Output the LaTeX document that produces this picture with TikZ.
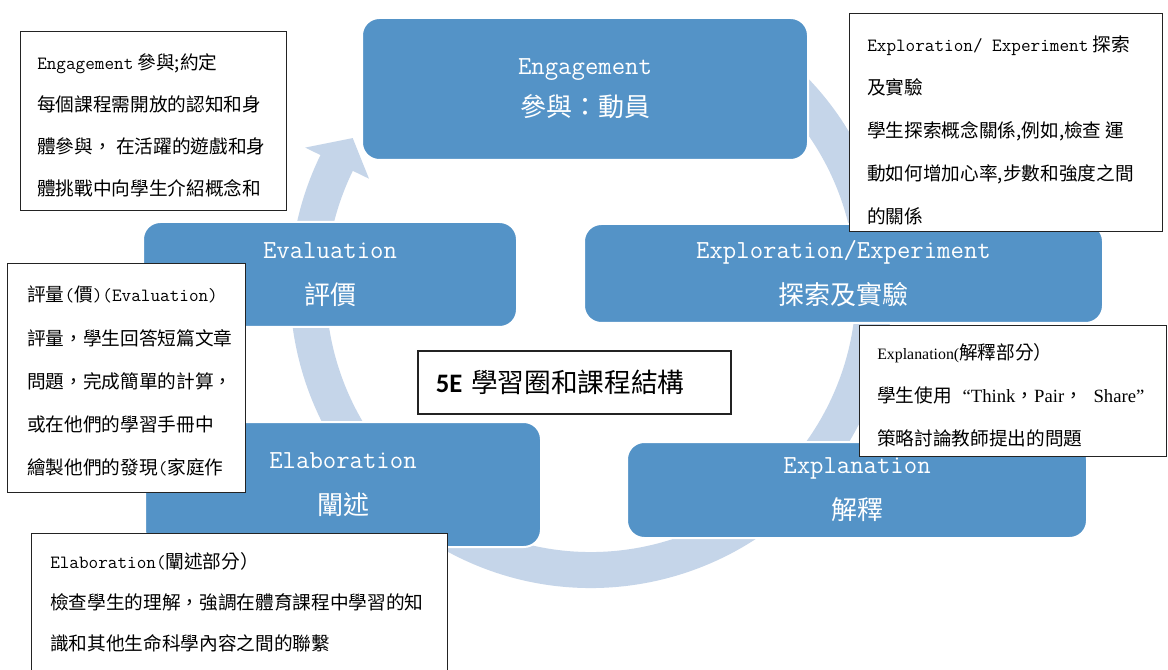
\documentclass[tikz,border=0pt]{standalone}
\usepackage{fontspec}
\setmainfont{Noto Sans CJK TC}
\newfontfamily\mono{Latin Modern Mono}
\newfontfamily\tnr{Liberation Serif}[Scale=0.85]
\newfontfamily\tnrb{Liberation Serif}
\newfontfamily\carl{Carlito}
\usetikzlibrary{calc}
\definecolor{boxblue}{RGB}{84,147,199}
\definecolor{ringblue}{RGB}{197,213,233}
\definecolor{edgegray}{RGB}{35,35,35}
\tikzset{
  bluebox/.style={rectangle, rounded corners=13pt, fill=boxblue, draw=white, line width=1.5pt, text=white, align=center, inner sep=0pt},
  callout/.style={rectangle, fill=white, draw=edgegray, line width=1pt, inner sep=0pt},
  ctext/.style={anchor=base west, inner sep=0pt, text=black},
}
\begin{document}
\begin{tikzpicture}[x=0.75pt, y=-0.75pt]
\clip (0,0) rectangle (1168,670);
\fill[white] (0,0) rectangle (1168,670);

% ring arrow
\begin{scope}[shift={(591,287)}, x=0.75pt, y=0.75pt]
\fill[ringblue] (60:301) arc[start angle=60, end angle=-206, radius=301]
  -- (-206:318) -- (-212:281) -- (-206:247) -- (-206:265)
  arc[start angle=-206, end angle=60, radius=265] -- cycle;
\end{scope}

% stage boxes
\node[bluebox, minimum width=334.5pt, minimum height=106.5pt, font=\fontsize{19.5}{31.5}\selectfont] (eng) at (585,89) {{\ttfamily Engagement}\\參與：動員};
\node[bluebox, minimum width=389.25pt, minimum height=74.25pt, font=\fontsize{19.5}{34.5}\selectfont] (exp) at (843.5,273.5) {{\ttfamily Exploration/Experiment}\\探索及實驗};
\node[bluebox, minimum width=345pt, minimum height=72pt, font=\fontsize{19.5}{34.5}\selectfont] (expl) at (857,490) {{\ttfamily Explanation}\\解釋};
\node[bluebox, minimum width=297pt, minimum height=93.75pt, font=\fontsize{19.5}{34.5}\selectfont] (elab) at (343,484.5) {{\ttfamily Elaboration}\\闡述};
\node[bluebox, minimum width=280.5pt, minimum height=78.75pt, font=\fontsize{19.5}{34.5}\selectfont] (eval) at (330,274.5) {{\ttfamily Evaluation}\\評價};

% callouts
\node[callout, anchor=north west, minimum width=199.5pt, minimum height=134.25pt] (cEng) at (20,31) {};
\node[ctext] (tEng) at (37,70) {\parbox[t]{300pt}{\raggedright\fontsize{14}{31.5}\selectfont
{\mono Engagement} 參與;約定\\
每個課程需開放的認知和身\\
體參與， 在活躍的遊戲和身\\
體挑戰中向學生介紹概念和}};

\node[callout, anchor=north west, minimum width=234.75pt, minimum height=163.5pt] (cExp) at (849,13) {};
\node[ctext] (tExp) at (867,52) {\parbox[t]{300pt}{\raggedright\fontsize{14}{32.25}\selectfont
{\mono Exploration/ Experiment} 探索\\
及實驗\\
學生探索概念關係,例如,檢查 運\\
動如何增加心率,步數和強度之間\\
的關係}};

\node[callout, anchor=north west, minimum width=178.5pt, minimum height=171.75pt] (cEval) at (7,263) {};
\node[ctext] (tEval) at (27,302) {\parbox[t]{300pt}{\raggedright\fontsize{14}{32.4}\selectfont
評量{\mono (}價{\mono )(Evaluation)}\\
評量，學生回答短篇文章\\
問題，完成簡單的計算，\\
或在他們的學習手冊中\\
繪製他們的發現{\mono (}家庭作}};

\node[callout, anchor=north west, minimum width=230.25pt, minimum height=98.25pt] (cExpl) at (859,325) {};
\node[ctext] (tExpl) at (877,360) {\parbox[t]{300pt}{\raggedright\fontsize{14}{31.9}\selectfont
{\tnr Explanation(}解釋部分）\\
學生使用\hspace{8pt}{\tnrb “Think}，{\tnrb Pair}，\hspace{8pt}{\tnrb Share”}\\
策略討論教師提出的問題}};

\node[callout, anchor=north west, minimum width=312pt, minimum height=110.25pt] (cElab) at (31,533) {};
\node[ctext] (tElab) at (50,568) {\parbox[t]{400pt}{\raggedright\fontsize{14}{30.75}\selectfont
{\mono Elaboration(}闡述部分）\\
檢查學生的理解，強調在體育課程中學習的知\\
識和其他生命科學內容之間的聯繫}};

% title
\node[callout, line width=1.2pt, anchor=north west, minimum width=234.75pt, minimum height=47.25pt, text width=207.75pt, align=left, inner xsep=13.5pt, font=\fontsize{20}{24}\selectfont] (title) at (417,350) {{\carl\bfseries 5E} 學習圈和課程結構};
\end{tikzpicture}
\end{document}
